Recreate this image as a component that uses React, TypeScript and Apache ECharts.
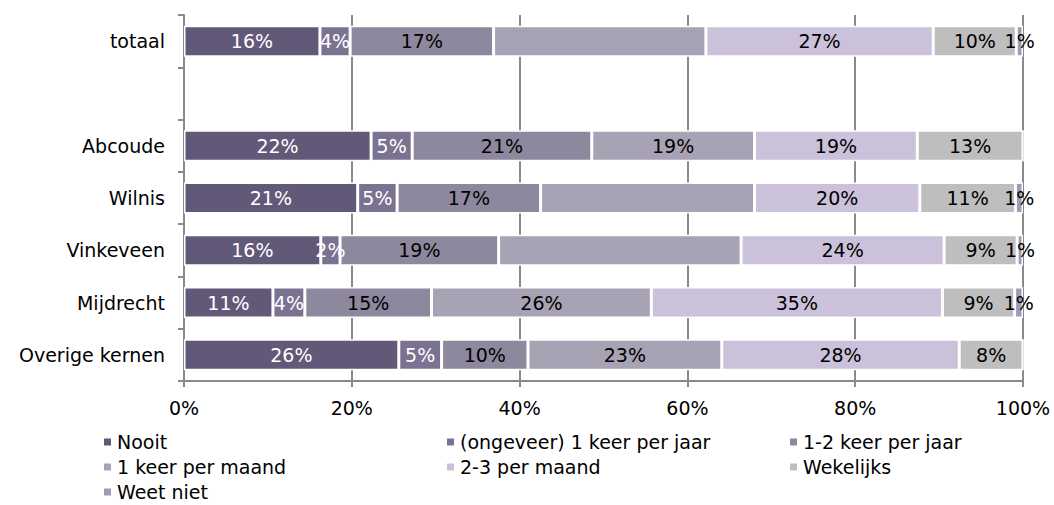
import React, { useEffect, useRef } from "react";
import * as echarts from "echarts";

const categories = ["totaal", "", "Abcoude", "Wilnis", "Vinkeveen", "Mijdrecht", "Overige kernen"];

const seriesNames = [
  "Nooit",
  "(ongeveer) 1 keer per jaar",
  "1-2 keer per jaar",
  "1 keer per maand",
  "2-3 per maand",
  "Wekelijks",
  "Weet niet",
];

// values per category (same order as categories), percentages
const nooit = [16.2, null, 22.3, 20.7, 16.3, 10.6, 25.6];
const eenKeerPerJaar = [3.6, null, 4.9, 4.7, 2.3, 3.8, 5.1];
const eenTweeKeerPerJaar = [17.1, null, 21.4, 17.1, 18.9, 15.1, 10.3];
const eenKeerPerMaand = [25.3, null, 19.4, 25.5, 28.9, 26.2, 23.1];
const tweeDriePerMaand = [27.1, null, 19.4, 19.7, 24.2, 34.7, 28.3];
const wekelijks = [9.9, null, 12.6, 11.4, 8.7, 8.6, 7.6];
const weetNiet = [0.8, null, 0, 0.9, 0.7, 1.0, 0];

const seriesValues = [nooit, eenKeerPerJaar, eenTweeKeerPerJaar, eenKeerPerMaand, tweeDriePerMaand, wekelijks, weetNiet];

// segments that carry no data label in the reference
const unlabeledSeries = "1 keer per maand";
const unlabeledCategories = ["totaal", "Wilnis", "Vinkeveen"];

const xTicks = [0, 20, 40, 60, 80, 100];

const colors = ["#625979", "#7b7291", "#8e889e", "#a7a2b4", "#cbc1db", "#bebebe", "#9f9ab5"];
const labelColors = ["#ffffff", "#ffffff", "#000000", "#000000", "#000000", "#000000", "#000000"];

// legend grid: [column, row] of every series entry (3 columns, reading order)
const legendCells = [
  [0, 0], [1, 0], [2, 0],
  [0, 1], [1, 1], [2, 1],
  [0, 2],
];
const legendLefts = [102, 445, 788];
const legendTops = [432, 457, 482];

const FONT = "'DejaVu Sans', Verdana, sans-serif";

export default function App() {
  const ref = useRef<HTMLDivElement>(null);

  useEffect(() => {
    if (!ref.current) return;
    const chart = echarts.init(ref.current, null, { renderer: "svg" });

    const series = seriesNames.map((name, si) => ({
      name,
      type: "bar",
      stack: "total",
      barWidth: 31,
      itemStyle: { color: colors[si], borderColor: "#ffffff", borderWidth: 1.5 },
      label: {
        show: true,
        position: "inside",
        color: labelColors[si],
        fontSize: 19,
        fontFamily: FONT,
        textBorderWidth: 0,
        formatter: (p: any) => {
          if (p.value === null || p.value === undefined || p.value === 0) return "";
          if (name === unlabeledSeries && unlabeledCategories.includes(p.name)) return "";
          return Math.round(p.value) + "%";
        },
      },
      emphasis: { disabled: true },
      data: seriesValues[si],
    }));

    chart.setOption({
      animation: false,
      textStyle: { fontFamily: FONT, fontSize: 19, color: "#000" },
      grid: { left: 184, right: 31, top: 15, height: 366, containLabel: false },
      xAxis: {
        type: "value",
        min: xTicks[0],
        max: xTicks[xTicks.length - 1],
        interval: 20,
        axisLine: { show: true, lineStyle: { color: "#8a8a8a", width: 2 } },
        axisTick: { show: true, length: 6, lineStyle: { color: "#8a8a8a", width: 2 } },
        splitLine: { show: true, lineStyle: { color: "#8a8a8a", width: 2 } },
        axisLabel: { formatter: "{value}%", fontSize: 19, fontFamily: FONT, color: "#000", margin: 17 },
      },
      yAxis: {
        type: "category",
        inverse: true,
        data: categories,
        axisLine: { show: true, lineStyle: { color: "#8a8a8a", width: 2 } },
        axisTick: { show: true, length: 6, alignWithLabel: false, lineStyle: { color: "#8a8a8a", width: 2 } },
        axisLabel: { fontSize: 19, fontFamily: FONT, color: "#000", margin: 19 },
        splitLine: { show: false },
      },
      legend: seriesNames.map((name, i) => ({
        data: [name],
        orient: "horizontal",
        left: legendLefts[legendCells[i][0]],
        top: legendTops[legendCells[i][1]],
        padding: 0,
        icon: "rect",
        itemWidth: 9,
        itemHeight: 9,
        selectedMode: false,
        textStyle: { fontSize: 19, fontFamily: FONT, color: "#000", lineHeight: 20 },
      })),
      series,
    });

    return () => chart.dispose();
  }, []);

  return (
    <div
      ref={ref}
      style={{ position: "fixed", left: 0, top: 0, width: 1054, height: 505, background: "#fff" }}
    />
  );
}
